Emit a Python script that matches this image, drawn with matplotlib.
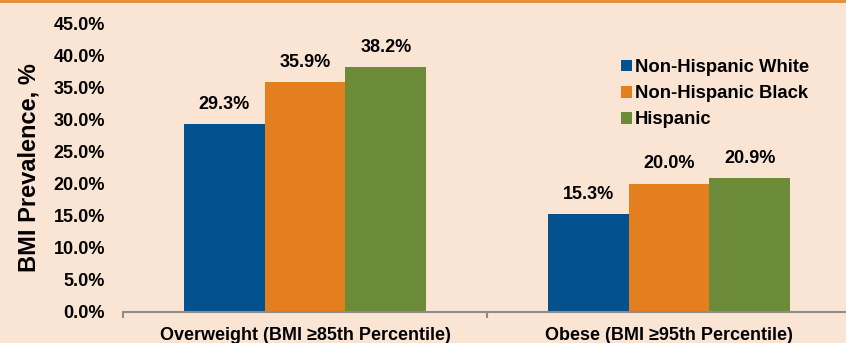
import numpy as np
import matplotlib
matplotlib.use('Agg')
import matplotlib.pyplot as plt
from matplotlib.lines import Line2D

# data
categories = ['Overweight (BMI \u226585th Percentile)', 'Obese (BMI \u226595th Percentile)']
groups = ['Non-Hispanic White', 'Non-Hispanic Black', 'Hispanic']
white = [29.3, 15.3]
black = [35.9, 20.0]
hispanic = [38.2, 20.9]
yticks = [0, 5, 10, 15, 20, 25, 30, 35, 40, 45]

colors = ['#03518F', '#E37F1E', '#6C8B38']
bg = '#FAE5D5'

plt.rcParams['font.family'] = ['Liberation Sans', 'DejaVu Sans']
plt.rcParams['font.weight'] = 'bold'

fig = plt.figure(figsize=(8.46, 3.43), dpi=100, facecolor=bg)
ax = fig.add_axes([123 / 846, 31.5 / 343, 728 / 846, 287.8 / 343])
ax.set_facecolor(bg)

x = np.arange(len(categories))
w = 0.2225
series = [white, black, hispanic]
for i, (vals, name) in enumerate(zip(series, groups)):
    pos = x + (i - 1) * w
    bars = ax.bar(pos, vals, width=w, color=colors[i], label=name, linewidth=0)
    for b, v in zip(bars, vals):
        ax.annotate('%.1f%%' % v, (b.get_x() + b.get_width() / 2, v),
                    xytext=(0, 8), textcoords='offset points',
                    ha='center', va='bottom', fontsize=13, fontweight='bold')

ax.set_xlim(-0.5, 1.5)
ax.set_ylim(0, 45)
ax.set_yticks(yticks)
ax.set_yticklabels(['%.1f%%' % t for t in yticks])
ax.tick_params(axis='y', length=0, pad=13, labelsize=13)

ax.set_xticks([-0.5, 0.5, 1.5])
ax.set_xticklabels([])
ax.set_xticks(x, minor=True)
ax.set_xticklabels(categories, minor=True, fontsize=13, fontweight='bold')
ax.tick_params(axis='x', which='major', length=4, width=1.5, color='#8C8C8C', direction='out')
ax.tick_params(axis='x', which='minor', length=0, pad=11)

for s in ['top', 'right', 'left']:
    ax.spines[s].set_visible(False)
ax.spines['bottom'].set_color('#8C8C8C')
ax.spines['bottom'].set_linewidth(1.5)

ax.set_ylabel('BMI Prevalence, %', fontsize=17, fontweight='bold', labelpad=9)

leg = ax.legend(loc='upper left', bbox_to_anchor=(621 / 846, 1 - 59 / 343),
                bbox_transform=fig.transFigure, frameon=False, fontsize=13.3,
                handlelength=0.6, handleheight=0.6, handletextpad=0.15,
                labelspacing=0.5, borderpad=0, borderaxespad=0)

# orange rule along the top
fig.add_artist(Line2D([0, 1], [1 - 1 / 343, 1 - 1 / 343], transform=fig.transFigure,
                      color='#E58A2E', linewidth=2))

fig.savefig('out.png', dpi=100, facecolor=bg)
